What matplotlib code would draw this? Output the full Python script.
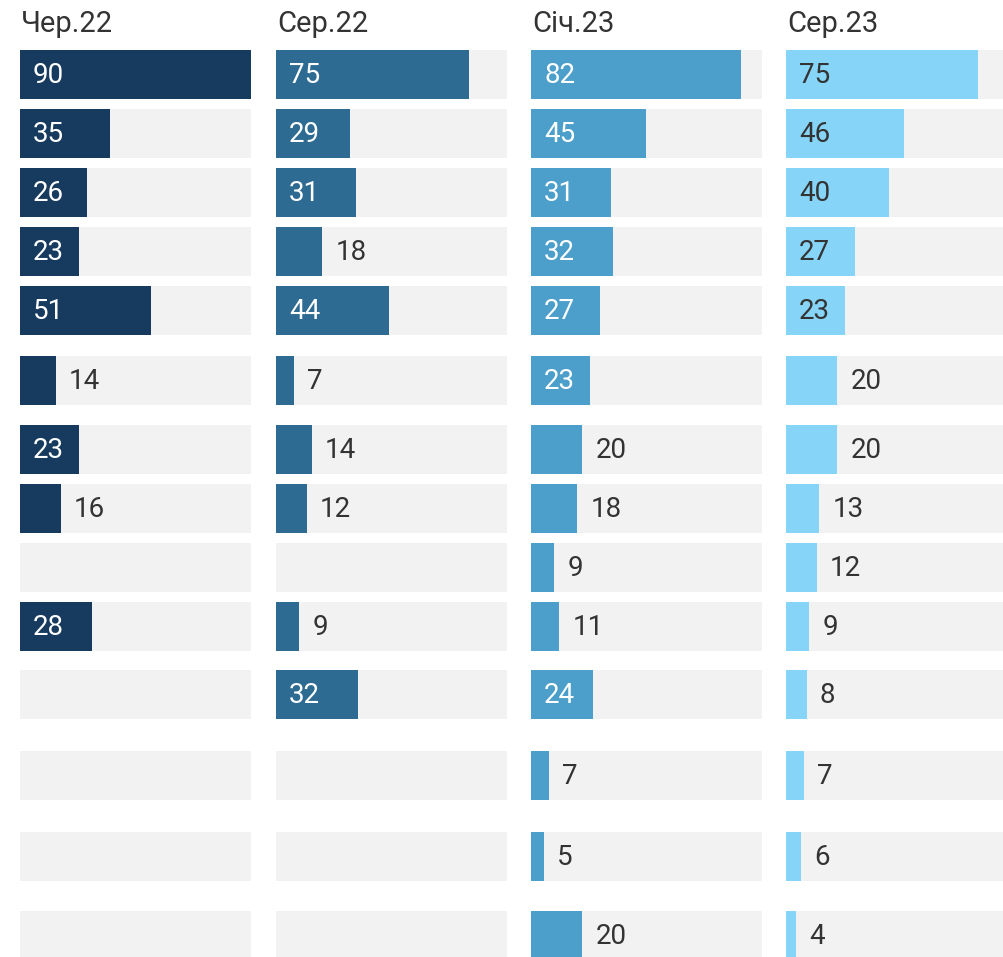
import matplotlib.pyplot as plt

# Дані по хвилях опитування
periods = ['Чер.22', 'Сер.22', 'Січ.23', 'Сер.23']
jun22 = [90, 35, 26, 23, 51, 14, 23, 16, None, 28, None, None, None, None]
aug22 = [75, 29, 31, 18, 44, 7, 14, 12, None, 9, 32, None, None, None]
jan23 = [82, 45, 31, 32, 27, 23, 20, 18, 9, 11, 24, 7, 5, 20]
aug23 = [75, 46, 40, 27, 23, 20, 20, 13, 12, 9, 8, 7, 6, 4]
series = [jun22, aug22, jan23, aug23]

colors = ['#173b5e', '#2e6b92', '#4c9fca', '#86d5f8']
label_inside = ['white', 'white', 'white', '#333333']

# Розмітка (пікселі)
W, H = 1004, 957
col_left = [20, 276, 531, 786]
col_width = 231
row_gaps = [59, 59, 59, 59, 70, 69, 59, 59, 59, 68, 81, 81, 79]
first_row = 74.5
bar_h = 49
x_max = 90

rows = [first_row]
for g in row_gaps:
    rows.append(rows[-1] + g)

plt.rcParams['font.family'] = ['Roboto', 'DejaVu Sans']

fig = plt.figure(figsize=(W / 100, H / 100), dpi=100)

for i in range(4):
    ax = fig.add_axes([col_left[i] / W, 0, col_width / W, 1])
    ax.set_xlim(0, x_max)
    ax.set_ylim(H, 0)
    ax.axis('off')

    # Сірий фон під кожним рядком
    ax.barh(rows, [x_max] * len(rows), height=bar_h, color='#f2f2f2', left=0)

    for y, v in zip(rows, series[i]):
        if v is None:
            continue
        ax.barh(y, v, height=bar_h, color=colors[i])
        if v >= 22:
            ax.annotate(str(v), (0, y + 1), xytext=(9.4, 0), textcoords='offset points',
                        va='center', ha='left', fontsize=20, color=label_inside[i])
        else:
            ax.annotate(str(v), (v, y + 1), xytext=(9.4, 0), textcoords='offset points',
                        va='center', ha='left', fontsize=20, color='#333333')

    ax.text(0.5, 32, periods[i], fontsize=21, color='#333333', va='baseline', ha='left')

fig.savefig('out.png', dpi=100)
